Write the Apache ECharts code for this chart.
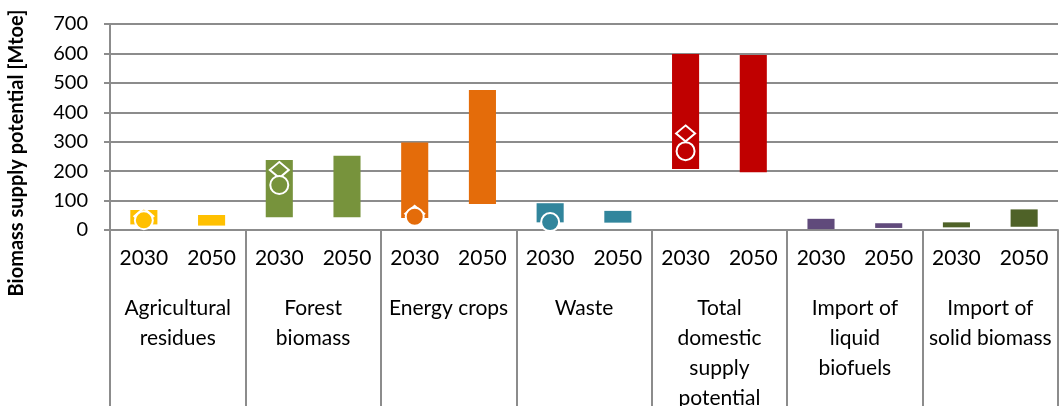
<!DOCTYPE html>
<html>
<head>
<meta charset="utf-8">
<script src="https://cdn.jsdelivr.net/npm/echarts@6/dist/echarts.min.js"></script>
<style>
html,body{margin:0;padding:0;background:#fff;}
#c{width:1059px;height:406px;}
</style>
</head>
<body>
<div id="c"></div>
<script>
const years = ['2030','2050','2030','2050','2030','2050','2030','2050','2030','2050','2030','2050','2030','2050'];
const groups = ['Agricultural\nresidues','Forest\nbiomass','Energy crops','Waste','Total\ndomestic\nsupply\npotential','Import of\nliquid\nbiofuels','Import of\nsolid biomass'];
const groupColors = ['#FFC000','#77933C','#E46C0A','#31859C','#C00000','#604A7B','#4F6228'];
const low  = [19, 15, 43, 43, 41, 88, 26, 25, 207, 196, 3, 7, 9, 11];
const high = [68, 51, 238, 252, 297, 476, 91, 65, 598, 595, 38, 23, 26, 70];
const diamonds = [47, null, 204, null, 55, null, null, null, 328, null, null, null, null, null];
const circles  = [33, null, 153, null, 45, null, 27, null, 268, null, null, null, null, null];
const yTicks = {min: 0, max: 700, interval: 100};

const colorOf = i => groupColors[Math.floor(i / 2)];
const FONT = 'Lato';
const GRAY = '#8c8c8c';

const chart = echarts.init(document.getElementById('c'));
const markerData = arr => arr.map((v, i) => v == null ? '-' : {value: v, itemStyle: {color: colorOf(i)}});

chart.setOption({
  animation: false,
  backgroundColor: '#fff',
  grid: {left: 110, right: 1, top: 24, bottom: 176, containLabel: false, outerBoundsMode: 'none'},
  xAxis: [
    {
      type: 'category', data: years, position: 'bottom',
      axisLine: {show: true, lineStyle: {color: GRAY, width: 2}},
      axisTick: {show: false},
      axisLabel: {interval: 0, margin: 18, fontFamily: FONT, fontSize: 21, color: '#000'}
    },
    {
      type: 'category', data: groups, position: 'bottom',
      axisLine: {show: false},
      axisTick: {show: true, interval: 0, length: 180, lineStyle: {color: GRAY, width: 2}},
      axisLabel: {interval: 0, margin: 63, fontFamily: FONT, fontSize: 21, color: '#000', lineHeight: 30, align: 'center'}
    }
  ],
  yAxis: {
    type: 'value', min: yTicks.min, max: yTicks.max, interval: yTicks.interval,
    axisLine: {show: true, lineStyle: {color: GRAY, width: 2}},
    axisTick: {show: true, length: 6, lineStyle: {color: GRAY, width: 2}},
    axisLabel: {margin: 22, fontFamily: FONT, fontSize: 20, color: '#000'},
    splitLine: {show: true, lineStyle: {color: GRAY, width: 2}}
  },
  series: [
    {
      name: 'base', type: 'bar', stack: 'r', xAxisIndex: 0, barWidth: '40%',
      itemStyle: {color: 'transparent'}, silent: true,
      data: low
    },
    {
      name: 'range', type: 'bar', stack: 'r', xAxisIndex: 0, barWidth: '40%',
      data: high.map((h, i) => ({value: h - low[i], itemStyle: {color: colorOf(i)}}))
    },
    {
      name: 'diamond', type: 'scatter', xAxisIndex: 0, symbol: 'diamond', symbolSize: [19, 16],
      itemStyle: {borderColor: '#fff', borderWidth: 2, opacity: 1},
      data: markerData(diamonds), z: 5
    },
    {
      name: 'circle', type: 'scatter', xAxisIndex: 0, symbol: 'circle', symbolSize: 18,
      itemStyle: {borderColor: '#fff', borderWidth: 2, opacity: 1},
      data: markerData(circles), z: 6
    }
  ],
  graphic: [
    {
      type: 'text', x: 17, y: 153, rotation: Math.PI / 2,
      style: {text: 'Biomass supply potential [Mtoe]', font: 'bold 20px Lato', fill: '#000', align: 'center', verticalAlign: 'middle'}
    }
  ]
});
</script>
</body>
</html>
